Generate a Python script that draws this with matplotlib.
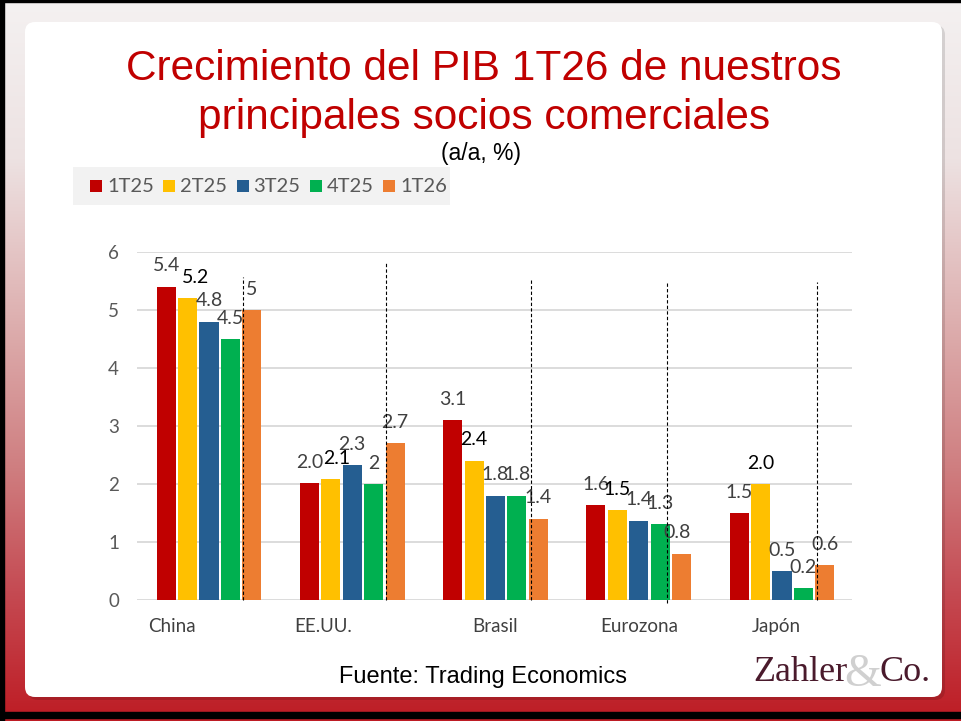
import matplotlib
matplotlib.use("Agg")
import matplotlib.pyplot as plt
import numpy as np
from matplotlib.patches import FancyBboxPatch, Rectangle
from matplotlib.colors import LinearSegmentedColormap

# ---------------- data ----------------
categories = ["China", "EE.UU.", "Brasil", "Eurozona", "Japón"]
series = ["1T25", "2T25", "3T25", "4T25", "1T26"]
v_1T25 = [5.4, 2.02, 3.1, 1.64, 1.5]
v_2T25 = [5.2, 2.08, 2.4, 1.55, 2.0]
v_3T25 = [4.8, 2.33, 1.8, 1.37, 0.5]
v_4T25 = [4.5, 2.0, 1.8, 1.31, 0.2]
v_1T26 = [5.0, 2.7, 1.4, 0.8, 0.6]
lab_1T25 = ["5.4", "2.0", "3.1", "1.6", "1.5"]
lab_2T25 = ["5.2", "2.1", "2.4", "1.5", "2.0"]
lab_3T25 = ["4.8", "2.3", "1.8", "1.4", "0.5"]
lab_4T25 = ["4.5", "2", "1.8", "1.3", "0.2"]
lab_1T26 = ["5", "2.7", "1.4", "0.8", "0.6"]
yticks = [0, 1, 2, 3, 4, 5, 6]

values = [v_1T25, v_2T25, v_3T25, v_4T25, v_1T26]
labels = [lab_1T25, lab_2T25, lab_3T25, lab_4T25, lab_1T26]

# ---------------- style ----------------
colors = ["#C00000", "#FFC000", "#255E91", "#00B050", "#ED7D31"]
lab_color = ["#404040", "#000000", "#404040", "#404040", "#404040"]
lab_dx = {(1, 0): 8, (1, 1): 6, (4, 3): -5}
cat_tick_pos = [-0.26, -0.2, 0.0, 0.0, -0.04]
dash_x = [0.235, 0.235, 0.245, 0.2, 0.245]
dash_top = [5.57, 5.81, 5.55, 5.48, 5.48]
dash_bot = [0.0, 0.0, 0.0, -0.05, 0.0]

W, H = 961, 721
fig = plt.figure(figsize=(W / 100, H / 100), dpi=100)

# background
bg = fig.add_axes([0, 0, 1, 1])
bg.set_xlim(0, W)
bg.set_ylim(H, 0)
bg.axis("off")
cmap = LinearSegmentedColormap.from_list(
    "bgr",
    [(0.0, "#F4F1F1"), (0.22, "#EDE2E2"), (0.45, "#DDAEAE"),
     (0.65, "#CF7E80"), (0.82, "#C54B53"), (1.0, "#BE1C24")])
grad = np.linspace(0, 1, 256)[:, None]
bg.imshow(grad, extent=(0, W, H, 0), aspect="auto", cmap=cmap, zorder=0)
bg.add_patch(Rectangle((0, 0), 4, H, color="black", zorder=1))
bg.add_patch(Rectangle((0, 0), W, 2, color="black", zorder=1))
bg.add_patch(Rectangle((0, 712), W, 6, color="black", zorder=1))
bg.add_patch(FancyBboxPatch((28, 25), 917, 675,
                            boxstyle="round,pad=0,rounding_size=10",
                            fc=(0, 0, 0, 0.12), ec="none", zorder=2))
bg.add_patch(FancyBboxPatch((25, 22), 917, 675,
                            boxstyle="round,pad=0,rounding_size=10",
                            fc="white", ec="none", zorder=3))

# legend (manual, gray box)
bg.add_patch(Rectangle((73, 167), 377, 38, fc="#F2F2F2", ec="none", zorder=4))
for j, name in enumerate(series):
    x0 = 90 + j * 73.3
    bg.add_patch(Rectangle((x0, 180), 12, 12, fc=colors[j], ec="none", zorder=5))
    bg.text(x0 + 17, 186, name, ha="left", va="center", fontsize=14.5,
            color="#595959", family="Lato", zorder=5)

# titles / texts
bg.text(484, 80, "Crecimiento del PIB 1T26 de nuestros", ha="center",
        va="baseline", fontsize=30.5, color="#C00000",
        family="Liberation Sans", zorder=5)
bg.text(484, 129, "principales socios comerciales", ha="center",
        va="baseline", fontsize=30.5, color="#C00000",
        family="Liberation Sans", zorder=5)
bg.text(481, 160, "(a/a, %)", ha="center", va="baseline", fontsize=16.5,
        color="black", family="Liberation Sans", zorder=5)
bg.text(483, 683, "Fuente: Trading Economics", ha="center", va="baseline",
        fontsize=17, color="black", family="Liberation Sans", zorder=5)
# logo
bg.text(863, 686, "&", ha="center", va="baseline", fontsize=34,
        color="#D0D0D0", family="Liberation Serif", zorder=5)
bg.text(753, 681, "Zahler", ha="left", va="baseline", fontsize=26,
        color="#4A1A2C", family="Liberation Serif", zorder=6)
bg.text(931, 681, "Co.", ha="right", va="baseline", fontsize=26,
        color="#4A1A2C", family="Liberation Serif", zorder=6)

# ---------------- main chart ----------------
ax_l, ax_r, ax_b, ax_t = 137, 852, 600, 252
ax = fig.add_axes([ax_l / W, (H - ax_b) / H, (ax_r - ax_l) / W, (ax_b - ax_t) / H])
ax.patch.set_alpha(0)
x = np.arange(len(categories))
pitch, bw = 0.1495, 0.133
for j in range(len(series)):
    xs = x + (j - 2) * pitch
    ax.bar(xs, values[j], width=bw, color=colors[j], zorder=3)
    for i in range(len(categories)):
        dx = lab_dx.get((j, i), 0) * 0.72
        ax.annotate(labels[j][i], (xs[i], values[j][i]), xytext=(dx, 15),
                    textcoords="offset points", ha="center", va="center",
                    fontsize=14, color=lab_color[j], family="Lato", zorder=5)

for i in range(len(categories)):
    ax.plot([x[i] + dash_x[i]] * 2, [dash_bot[i], dash_top[i]], color="black",
            lw=0.8, ls=(0, (3, 2)), zorder=6, clip_on=False)

ax.set_xlim((ax_l - 209) / 143.25, (ax_r - 209) / 143.25)
ax.set_ylim(0, 6)
ax.set_yticks(yticks)
ax.set_yticklabels([str(t) for t in yticks])
ax.set_xticks(x + np.array(cat_tick_pos))
ax.set_xticklabels(categories)
ax.grid(axis="y", color="#D9D9D9", lw=1.3, zorder=0)
ax.set_axisbelow(True)
for s in ax.spines.values():
    s.set_visible(False)
ax.tick_params(axis="y", length=0, pad=13, labelsize=13.5, labelcolor="#595959")
ax.tick_params(axis="x", length=0, pad=13, labelsize=13.5, labelcolor="#404040")
for t in ax.get_xticklabels() + ax.get_yticklabels():
    t.set_family("Lato")

fig.savefig("out.png", dpi=100)
